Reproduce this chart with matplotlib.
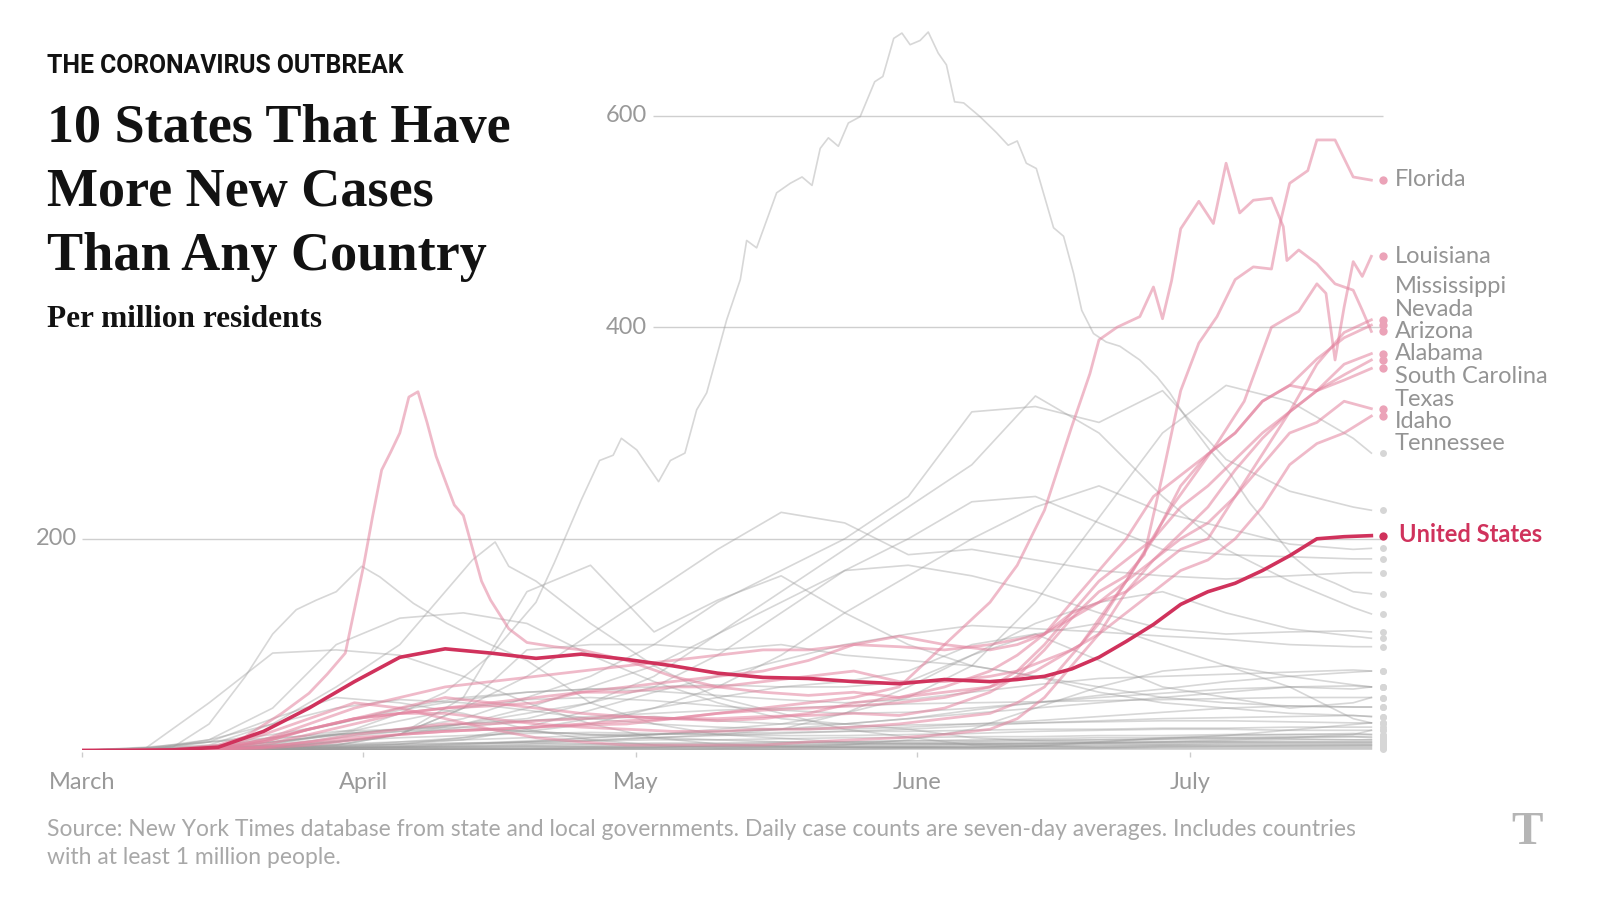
import matplotlib
matplotlib.use("Agg")
import matplotlib.pyplot as plt

# days counted from March 1
W = [0, 7, 14, 21, 28, 35, 42, 49, 56, 63, 70, 77, 84, 91, 98, 105, 112, 119, 126, 133, 140, 142]
PD = [0, 5, 10, 15, 20, 25, 30, 35, 40, 45, 50, 55, 60, 65, 70, 75, 80, 85, 90, 95,
      100, 103, 106, 109, 112, 115, 118, 121, 124, 127, 130, 133, 136, 139, 142]

month_names = ["March", "April", "May", "June", "July"]
month_days = [0, 31, 61, 92, 122]

# highlighted: United States
us = [0, 0, 0.5, 3, 18, 40, 65, 88, 96, 92, 87, 91, 86, 80, 73, 69, 68, 65, 63, 67,
      65, 67, 70, 77, 88, 103, 119, 138, 150, 158, 170, 184, 200, 202, 203]

# the ten states
fl_days = [0, 10, 15, 20, 25, 30, 35, 40, 45, 50, 55, 60, 65, 70, 75, 80, 85, 90, 95, 100,
           103, 106, 109, 112, 115, 117, 119, 121, 123, 125, 127, 129, 131, 132, 133, 135, 136, 138, 140, 142]
florida = [0, 0.5, 2, 8, 20, 30, 40, 50, 45, 40, 35, 32, 30, 30, 32, 33, 35, 33, 40, 55,
           70, 95, 125, 150, 165, 185, 260, 340, 385, 410, 445, 457, 455, 500, 536, 548, 577, 577, 542, 539]

la_days = [0, 10, 15, 18, 22, 25, 27, 29, 31, 32, 33, 34, 35, 36, 37, 38, 39, 40, 41, 42,
           44, 45, 47, 49, 52, 55, 60, 65, 70, 75, 80, 85, 90, 95, 100, 105, 110, 115, 120, 125,
           128, 131, 134, 136, 137, 138, 139, 140, 141, 142]
louisiana = [0, 1, 5, 13, 35, 54, 72, 92, 174, 221, 265, 282, 300, 334, 339, 310, 278, 255, 232, 222,
             160, 142, 115, 102, 98, 95, 85, 70, 60, 55, 52, 55, 50, 55, 60, 75, 100, 160, 230, 290,
             330, 400, 415, 441, 432, 369, 419, 462, 448, 467]

az_days = [0, 15, 20, 25, 30, 35, 40, 45, 50, 55, 60, 65, 70, 75, 80, 85, 90, 95, 100, 103,
           106, 109, 111, 112, 114, 116.5, 118, 119, 120, 121, 123, 124.6, 126, 127.5, 129, 131, 132.3, 132.7, 134, 136,
           138, 140, 141, 142]
arizona = [0, 1, 3, 8, 12, 15, 18, 20, 22, 25, 28, 30, 35, 40, 45, 50, 60, 100, 140, 175,
           227, 306, 356, 388, 400, 410, 438, 408, 444, 493, 519, 498, 555, 508, 520, 522, 495, 463, 473, 460,
           441, 435, 416, 396]

mississippi = [0, 0, 0, 2, 10, 25, 40, 50, 60, 65, 70, 75, 80, 85, 90, 95, 95, 100, 98, 95,
               100, 105, 110, 125, 140, 160, 180, 205, 230, 265, 295, 320, 365, 395, 407]
nevada = [0, 0, 0, 1, 8, 20, 30, 35, 35, 30, 25, 22, 20, 18, 18, 20, 20, 22, 25, 30,
          35, 45, 60, 90, 120, 160, 200, 250, 280, 300, 330, 345, 370, 390, 402]
alabama = [0, 0, 0, 1, 5, 15, 25, 35, 40, 42, 45, 55, 60, 65, 70, 75, 85, 100, 108, 100,
           95, 100, 110, 130, 140, 150, 170, 190, 200, 240, 280, 320, 340, 365, 375]
south_carolina = [0, 0, 0, 1, 3, 8, 15, 20, 25, 25, 28, 30, 32, 30, 28, 30, 35, 45, 50, 60,
                  75, 90, 110, 140, 170, 200, 240, 260, 280, 300, 330, 345, 340, 355, 369]
texas = [0, 0, 0, 0.5, 2, 5, 10, 15, 18, 20, 22, 24, 25, 30, 35, 38, 40, 42, 45, 50,
         60, 75, 100, 130, 160, 180, 200, 230, 250, 275, 300, 320, 340, 350, 361]
idaho = [0, 0, 0, 2, 15, 30, 45, 40, 30, 20, 12, 8, 5, 5, 5, 5, 8, 10, 12, 15,
         20, 30, 50, 80, 110, 150, 180, 200, 215, 240, 270, 300, 310, 330, 323]
tennessee = [0, 0, 0, 2, 10, 20, 30, 35, 40, 45, 50, 55, 55, 60, 60, 65, 70, 75, 65, 65,
             70, 75, 85, 95, 110, 130, 150, 170, 180, 200, 230, 270, 290, 300, 316]

state_names = ["Florida", "Louisiana", "Mississippi", "Nevada", "Arizona",
               "Alabama", "South Carolina", "Texas", "Idaho", "Tennessee"]

# countries (grey)
qa_days = [0, 15, 20, 25, 30, 35, 40, 45, 50, 52, 55, 57, 58.5, 59.4, 61.1, 63.5, 64.8, 66.4, 67.7, 68.8,
           71, 72.5, 73.2, 74.3, 76.5, 78, 79.3, 80.4, 81.3, 82.2, 83.3, 84.4, 85.7, 87.3, 88.2, 89.4, 90.3, 91.2, 92.3, 93.2,
           94.3, 95.2, 96.1, 97.1, 98.9, 100.7, 102, 103, 104, 105.1, 107, 108.1, 109.2, 110.1, 111.4, 112.8, 114.3, 116.5, 118.4, 119.8,
           122, 124.2, 126.4, 128.6, 130.8, 133.4, 136, 138, 140, 142]
qatar = [0, 1, 5, 12, 20, 35, 55, 90, 140, 177, 237, 274, 279, 295, 284, 254, 274, 281, 322, 338,
         407, 445, 482, 475, 527, 536, 542, 534, 569, 579, 571, 593, 599, 632, 637, 673, 678, 667, 671, 679,
         659, 648, 613, 612, 599, 584, 572, 576, 555, 550, 494, 486, 451, 416, 394, 386, 382, 369, 353, 338,
         309, 284, 262, 234, 211, 183, 165, 158, 150, 148]

es_days = [0, 10, 14, 18, 21, 23.6, 25.8, 28, 30.8, 32.8, 36.5, 40.2, 45, 49, 56, 63, 70, 84, 98, 112, 126, 142]
spain = [0, 3, 25, 70, 110, 133, 142, 150, 174, 164, 139, 120, 100, 85, 45, 25, 15, 8, 6, 8, 14, 26]
ie_days = [0, 14, 21, 28, 35, 40, 43, 45.5, 47, 50, 53, 56, 63, 70, 77, 84, 98, 112, 126, 142]
ireland = [0, 5, 25, 60, 100, 150, 180, 197, 174, 160, 140, 120, 80, 50, 35, 20, 5, 3, 4, 5]

switzerland = [0, 2, 45, 92, 95, 90, 70, 45, 25, 12, 6, 4, 3, 3, 3, 4, 8, 12, 14, 15, 16, 15]
belgium = [0, 0, 10, 40, 100, 125, 130, 120, 90, 65, 45, 30, 25, 20, 12, 9, 8, 8, 10, 12, 15, 19]
singapore = [0, 1, 2, 3, 5, 15, 50, 150, 175, 112, 142, 165, 130, 100, 80, 70, 55, 45, 40, 35, 33, 32]
bahrain = [0, 2, 8, 12, 15, 20, 30, 50, 70, 100, 140, 170, 200, 240, 320, 325, 310, 340, 275, 245, 230, 227]
kuwait = [0, 0, 2, 4, 8, 15, 40, 70, 110, 150, 190, 225, 215, 185, 190, 180, 170, 165, 162, 165, 168, 168]
oman = [0, 0, 1, 2, 4, 8, 12, 18, 25, 40, 60, 90, 130, 165, 200, 230, 250, 225, 210, 195, 190, 191]
armenia = [0, 0, 2, 5, 12, 18, 25, 35, 45, 60, 90, 130, 170, 200, 235, 240, 215, 190, 185, 183, 181, 181]
chile = [0, 0, 2, 8, 15, 20, 25, 30, 45, 70, 110, 150, 190, 230, 270, 335, 300, 240, 190, 160, 135, 129]
panama = [0, 0, 0, 1, 2, 3, 5, 8, 12, 15, 20, 25, 35, 50, 80, 140, 220, 300, 345, 330, 295, 281]
peru = [0, 0, 1, 3, 8, 15, 25, 40, 60, 80, 110, 140, 170, 175, 165, 150, 130, 115, 110, 112, 113, 112]
dominican = [0, 1, 4, 10, 18, 20, 22, 18, 15, 15, 18, 20, 35, 60, 90, 120, 140, 150, 130, 115, 108, 106]
brazil = [0, 0, 0, 1, 3, 6, 12, 22, 38, 55, 70, 85, 100, 110, 118, 115, 112, 108, 105, 100, 98, 98]
south_africa = [0, 0, 1, 3, 3, 3, 4, 6, 9, 12, 15, 20, 25, 30, 38, 45, 52, 58, 65, 70, 74, 75]
israel = [0, 0, 8, 30, 50, 45, 35, 20, 10, 5, 3, 3, 5, 10, 20, 40, 60, 75, 80, 70, 62, 60]
sweden = [0, 3, 8, 15, 25, 40, 50, 55, 58, 60, 62, 60, 65, 75, 100, 110, 85, 60, 50, 40, 45, 50]
belarus = [0, 0, 1, 2, 5, 15, 40, 95, 100, 100, 95, 100, 90, 85, 80, 70, 60, 50, 45, 42, 41, 41]
saudi = [0, 0, 1, 2, 4, 6, 10, 20, 30, 40, 50, 60, 60, 65, 90, 110, 120, 100, 80, 60, 30, 26]
moldova = [0, 0, 2, 8, 15, 20, 25, 28, 30, 32, 28, 25, 25, 30, 35, 40, 45, 50, 55, 60, 58, 60]
mid1 = [0, 1, 4, 12, 25, 38, 48, 55, 58, 56, 52, 48, 45, 48, 55, 62, 68, 70, 72, 74, 76, 75]
mid2 = [0, 0, 2, 6, 15, 28, 40, 48, 50, 47, 42, 38, 35, 36, 40, 45, 50, 54, 58, 60, 61, 60]
mid3 = [0, 0, 1, 3, 8, 15, 22, 28, 32, 35, 38, 40, 42, 44, 45, 46, 47, 48, 49, 50, 50, 50]
mid4 = [0, 2, 10, 25, 40, 48, 45, 38, 30, 25, 22, 20, 20, 22, 25, 28, 32, 36, 40, 42, 41, 41]
low1 = [0, 0, 1, 2, 3, 5, 7, 8, 9, 10, 10, 11, 12, 12, 13, 13, 14, 14, 15, 15, 15, 15]
low2 = [0, 0, 0, 1, 2, 3, 4, 5, 6, 7, 7, 8, 8, 9, 9, 10, 10, 10, 11, 11, 10, 10]
low3 = [0, 0, 0, 0, 1, 1, 2, 2, 3, 3, 4, 4, 5, 5, 6, 6, 7, 7, 8, 8, 8, 8]
low4 = [0, 0, 0, 0, 0, 1, 1, 1, 2, 2, 2, 3, 3, 3, 4, 4, 5, 5, 5, 5, 5, 5]
low5 = [0, 0, 0, 0, 0, 0, 0, 1, 1, 1, 1, 1, 1, 2, 2, 2, 2, 3, 3, 3, 3, 3]
low6 = [0, 0, 0, 0, 0, 0, 0, 0, 0, 0, 1, 1, 1, 1, 1, 1, 1, 1, 1, 1, 1, 1]
low7 = [0, 1, 2, 4, 6, 8, 10, 12, 14, 15, 16, 17, 18, 18, 19, 20, 20, 21, 21, 22, 22, 22]
low8 = [0, 0, 2, 5, 9, 12, 14, 16, 17, 16, 15, 14, 14, 15, 16, 18, 19, 20, 20, 19, 19, 19]
low9 = [0, 0, 1, 2, 3, 4, 6, 8, 10, 12, 14, 16, 18, 20, 23, 26, 28, 30, 31, 32, 33, 32]
low10 = [0, 0, 0, 1, 2, 4, 6, 9, 12, 15, 18, 20, 22, 24, 25, 26, 27, 28, 28, 27, 26, 26]
low11 = [0, 0, 3, 8, 14, 18, 20, 18, 15, 12, 10, 8, 7, 6, 6, 6, 7, 8, 9, 10, 10, 10]
low12 = [0, 0, 0, 0, 1, 2, 3, 4, 4, 5, 5, 6, 6, 6, 7, 7, 7, 8, 8, 8, 8, 8]
low13 = [0, 0, 0, 1, 1, 2, 2, 3, 3, 3, 4, 4, 4, 4, 5, 5, 6, 6, 7, 7, 7, 7]
low14 = [0, 0, 0, 0, 1, 1, 1, 2, 2, 2, 2, 2, 3, 3, 3, 3, 3, 4, 4, 4, 4, 4]
low15 = [0, 0, 1, 1, 2, 3, 3, 4, 4, 4, 3, 3, 3, 3, 3, 4, 4, 5, 6, 6, 6, 6]
low16 = [0, 0, 0, 0, 0, 1, 1, 1, 1, 1, 1, 1, 2, 2, 2, 2, 2, 2, 2, 2, 2, 2]
low17 = [0, 0, 1, 3, 5, 6, 7, 7, 6, 6, 6, 7, 8, 9, 10, 11, 12, 12, 12, 13, 13, 12]
low18 = [0, 0, 0, 0, 0, 0, 1, 1, 2, 3, 4, 5, 6, 7, 8, 9, 10, 11, 12, 12, 13, 13]

weekly_grey = [switzerland, belgium, singapore, bahrain, kuwait, oman, armenia, chile, panama,
               peru, dominican, brazil, south_africa, israel, sweden, belarus, saudi, moldova,
               mid1, mid2, mid3, mid4, low1, low2, low3, low4, low5, low6, low7, low8, low9,
               low10, low11, low12, low13, low14, low15, low16, low17, low18]

PINK = "#e3829e"
PINK_DOT = "#eba3b8"
RED = "#d0325c"
GREY = "#9b9b9b"
LABEL_GREY = "#949494"

fig = plt.figure(figsize=(16, 9), dpi=100)
# axes placed so that day 0 sits at x=82px and value 0 at y=750px
ax = fig.add_axes([82 / 1600, (900 - 750.4) / 900, 146 * 9.08 / 1600, 700 * 1.058 / 900])
ax.set_xlim(0, 146)
ax.set_ylim(0, 700)
ax.axis("off")

DOT_X = 143.3

# gridlines and their labels
ax.hlines(200, 0, DOT_X, color="#cfcfcf", lw=1, zorder=0)
ax.hlines([400, 600], 62.9, DOT_X, color="#cfcfcf", lw=1, zorder=0)
ax.text(-0.6, 200, "200", ha="right", va="center", fontsize=17, color="#999999", family="Lato")
for v in (400, 600):
    ax.text(62.2, v, str(v), ha="right", va="center", fontsize=17, color="#999999", family="Lato")

# month ticks and labels
ax.vlines(month_days, -6.5, -1.5, color="#cccccc", lw=1, clip_on=False)
for d, name in zip(month_days, month_names):
    ax.text(d, -30, name, ha="center", va="center", fontsize=17, color="#999999", family="Lato")

# grey country lines
grey_series = [(qa_days, qatar), (es_days, spain), (ie_days, ireland)] + [(W, s) for s in weekly_grey]
for days, vals in grey_series:
    ax.plot(days, vals, color=GREY, lw=1.2, alpha=0.4, zorder=1, solid_joinstyle="round")
    ax.plot(DOT_X, vals[-1], "o", ms=5, color="#d6d6d6", mec="none", zorder=1, clip_on=False)

# pink state lines
state_series = [(fl_days, florida), (la_days, louisiana), (PD, mississippi), (PD, nevada),
                (az_days, arizona), (PD, alabama), (PD, south_carolina), (PD, texas),
                (PD, idaho), (PD, tennessee)]
for days, vals in state_series:
    ax.plot(days, vals, color=PINK, lw=2, alpha=0.55, zorder=2, solid_joinstyle="round")
    ax.plot(DOT_X, vals[-1], "o", ms=6, color=PINK_DOT, mec="none", zorder=3, clip_on=False)

# state labels, spread out in pixels (baseline y)
label_px = [186, 263, 293, 315.5, 338, 360.5, 383, 405.5, 428, 450.5]
for name, py in zip(state_names, label_px):
    ax.text(144.6, (750.4 - py) / 1.058, name, ha="left", va="baseline",
            fontsize=17, color=LABEL_GREY, family="Lato", clip_on=False)

# United States
ax.plot(PD, us, color=RED, lw=2.6, zorder=4, solid_joinstyle="round")
ax.plot(DOT_X, us[-1], "o", ms=6, color=RED, mec="none", zorder=4, clip_on=False)
ax.text(145.0, (750.4 - 542) / 1.058, "United States", ha="left", va="baseline",
        fontsize=17, fontweight="bold", color=RED, family="Lato", clip_on=False)

# headline block
fig.text(47 / 1600, 1 - 73 / 900, "THE CORONAVIRUS OUTBREAK", ha="left", va="baseline",
         fontsize=17.8, fontweight="bold", family="Roboto", color="#121212")
for i, line in enumerate(["10 States That Have", "More New Cases", "Than Any Country"]):
    fig.text(47 / 1600, 1 - (142 + 64 * i) / 900, line, ha="left", va="baseline",
             fontsize=39, fontweight="bold", family="Liberation Serif", color="#121212")
fig.text(47 / 1600, 1 - 327 / 900, "Per million residents", ha="left", va="baseline",
         fontsize=22.5, fontweight="bold", family="Liberation Serif", color="#121212")

# source note
fig.text(47 / 1600, 1 - 829 / 900,
         "Source: New York Times database from state and local governments. Daily case counts are "
         "seven-day averages. Includes countries",
         ha="left", va="center", fontsize=16.5, color="#a8a8a8", family="Lato")
fig.text(47 / 1600, 1 - 857 / 900, "with at least 1 million people.",
         ha="left", va="center", fontsize=16.5, color="#a8a8a8", family="Lato")
fig.text(1527 / 1600, 1 - 833 / 900, "T", ha="center", va="center", fontsize=34,
         fontweight="bold", family="Liberation Serif", color="#b5b5b5")

fig.savefig("out.png", dpi=100, facecolor="white")
